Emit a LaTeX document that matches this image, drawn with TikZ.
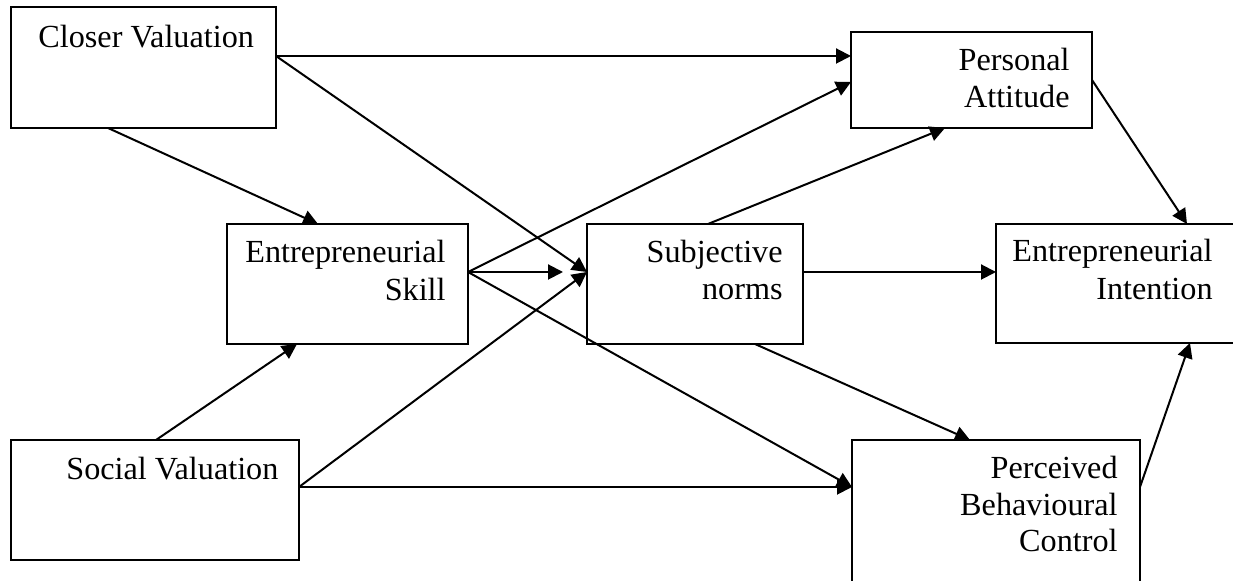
\documentclass[tikz,border=0pt]{standalone}
\usepackage{fontspec}
\setmainfont{Liberation Serif}
\usetikzlibrary{calc,arrows.meta}
\begin{document}
\begin{tikzpicture}[x=0.5pt,y=-0.5pt,
  box/.style={draw,line width=1pt,rectangle,inner sep=0pt,outer sep=0pt,anchor=north west},
  lbl/.style={inner sep=0pt,font=\fontsize{16.1pt}{18.5pt}\selectfont},
  link/.style={line width=1pt,-{Triangle[length=7.5pt,width=7.5pt]}}]
\useasboundingbox (0,0) rectangle (1233,581);
\begin{scope}
\clip (0,0) rectangle (1233,581);

% boxes
\node[box,minimum width=132.5pt,minimum height=60.5pt] (cv)  at (11,7)    {};
\node[box,minimum width=120.5pt,minimum height=60pt]   (es)  at (227,224) {};
\node[box,minimum width=144pt,minimum height=60pt]     (sv)  at (11,440)  {};
\node[box,minimum width=108pt,minimum height=60pt]     (sn)  at (587,224) {};
\node[box,minimum width=120.5pt,minimum height=48pt]   (pa)  at (851,32)  {};
\node[box,minimum width=125pt,minimum height=59.5pt]   (ei)  at (996,224) {};
\node[box,minimum width=144pt,minimum height=85pt]     (pbc) at (852,440) {};

% labels
\node[lbl,anchor=base west] (cvt)  at (38,48)    {Closer Valuation};
\node[lbl,anchor=base west] (svt)  at (66,480)   {Social Valuation};
\node[lbl,anchor=base east] (est1) at (446,263)  {Entrepreneurial};
\node[lbl,anchor=base east] (est2) at (446,301)  {Skill};
\node[lbl,anchor=base east] (snt1) at (783,263)  {Subjective};
\node[lbl,anchor=base east] (snt2) at (783,300)  {norms};
\node[lbl,anchor=base east] (pat1) at (1070,71)  {Personal};
\node[lbl,anchor=base east] (pat2) at (1070,108) {Attitude};
\node[lbl,anchor=base east] (eit1) at (1213,262) {Entrepreneurial};
\node[lbl,anchor=base east] (eit2) at (1213,300) {Intention};
\node[lbl,anchor=base east] (pbt1) at (1118,479) {Perceived};
\node[lbl,anchor=base east] (pbt2) at (1118,516) {Behavioural};
\node[lbl,anchor=base east] (pbt3) at (1118,552) {Control};

% free end of the short arrow towards Subjective norms
\coordinate (esgap) at ($(sn.north west)+(-24,48)$);

% connectors
\draw[link] ($(cv.north east)+(0,49)$) -- ($(pa.north west)+(0,24)$);
\draw[link] ($(cv.north east)+(0,49)$) -- ($(sn.north west)+(0,48)$);
\draw[link] ($(cv.south west)+(97,0)$) -- ($(es.north west)+(91,0)$);
\draw[link] ($(es.north east)+(0,48)$) -- (esgap);
\draw[link] ($(es.north east)+(0,48)$) -- ($(pa.north west)+(0,50)$);
\draw[link] ($(es.north east)+(0,48)$) -- ($(pbc.north west)+(0,47)$);
\draw[link] ($(sv.north west)+(145,0)$) -- ($(es.south west)+(70,0)$);
\draw[link] ($(sv.north east)+(0,47)$) -- ($(sn.north west)+(0,48)$);
\draw[link] ($(sv.north east)+(0,47)$) -- ($(pbc.north west)+(0,47)$);
\draw[link] ($(sn.north west)+(121,0)$) -- ($(pa.south west)+(94,0)$);
\draw[link] ($(sn.north east)+(0,48)$) -- ($(ei.north west)+(0,48)$);
\draw[link] ($(sn.south west)+(168,0)$) -- ($(pbc.north west)+(118,0)$);
\draw[link] ($(pa.north east)+(0,48)$) -- ($(ei.north west)+(191,0)$);
\draw[link] ($(pbc.north east)+(0,47)$) -- ($(ei.south west)+(194,0)$);
\end{scope}
\end{tikzpicture}
\end{document}
